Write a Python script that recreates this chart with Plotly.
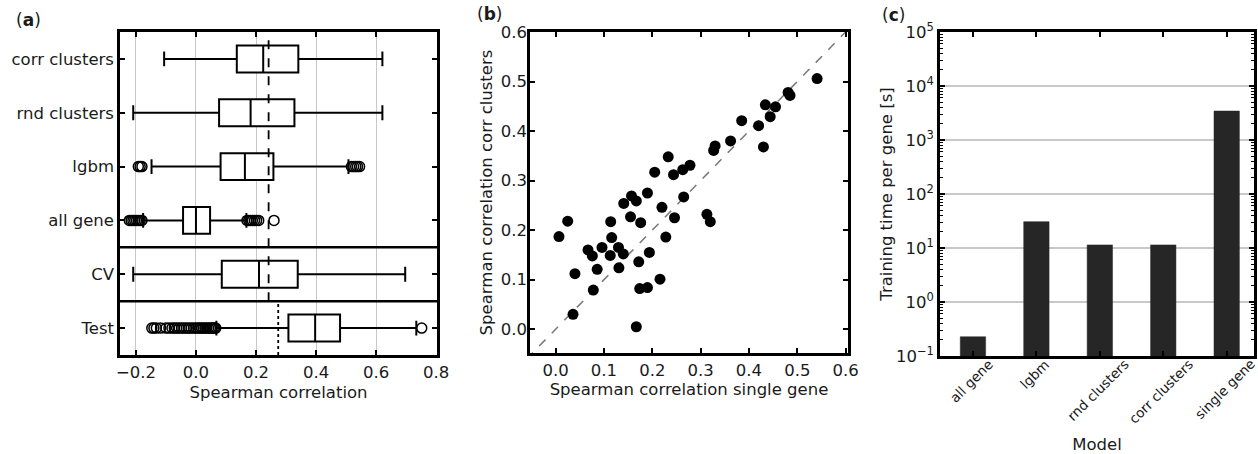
import plotly.graph_objects as go

W, H = 1258, 454

# ---------------- Panel (a) data: box statistics ----------------
box_categories = ["corr clusters", "rnd clusters", "lgbm", "all gene", "CV", "Test"]
box_lowerfence = [-0.106, -0.209, -0.148, -0.176, -0.209, 0.068]
box_q1 = [0.136, 0.077, 0.082, -0.043, 0.086, 0.308]
box_median = [0.224, 0.182, 0.163, 0.000, 0.210, 0.397]
box_q3 = [0.341, 0.328, 0.258, 0.047, 0.339, 0.480]
box_upperfence = [0.621, 0.621, 0.508, 0.168, 0.697, 0.734]

outliers_lgbm = [-0.192, -0.186, -0.180, 0.518, 0.525, 0.532, 0.538, 0.545]
outliers_allgene = [-0.222, -0.216, -0.210, -0.204, -0.198, -0.192, -0.186, -0.180,
                    0.170, 0.176, 0.182, 0.188, 0.195, 0.202, 0.209, 0.260]
outliers_test = [-0.147, -0.140, -0.132, -0.118, -0.100, -0.090, -0.080, -0.072,
                 -0.064, -0.056, -0.048, -0.040, -0.032, -0.024, -0.016, -0.008,
                 0.000, 0.006, 0.012, 0.018, 0.024, 0.030, 0.036, 0.042, 0.048,
                 0.053, 0.058, 0.062, 0.066, 0.752]

ref_line_cv = 0.242      # dashed reference line (model rows + CV)
ref_line_test = 0.274    # dotted reference line (Test row)

# ---------------- Panel (b) data: scatter ----------------
single_gene = [0.007, 0.025, 0.036, 0.040, 0.067, 0.076, 0.078, 0.086, 0.096, 0.113,
               0.114, 0.116, 0.130, 0.131, 0.140, 0.141, 0.155, 0.157, 0.167, 0.167,
               0.172, 0.176, 0.174, 0.190, 0.190, 0.194, 0.205, 0.216, 0.220, 0.228,
               0.233, 0.244, 0.246, 0.263, 0.265, 0.278, 0.313, 0.320, 0.327, 0.330,
               0.362, 0.385, 0.420, 0.430, 0.434, 0.444, 0.455, 0.481, 0.485, 0.541]
corr_clusters = [0.187, 0.218, 0.030, 0.112, 0.160, 0.148, 0.079, 0.121, 0.165, 0.149,
                 0.217, 0.185, 0.165, 0.124, 0.152, 0.254, 0.227, 0.269, 0.259, 0.005,
                 0.136, 0.215, 0.082, 0.084, 0.275, 0.155, 0.317, 0.101, 0.246, 0.186,
                 0.348, 0.312, 0.225, 0.322, 0.267, 0.331, 0.232, 0.217, 0.361, 0.370,
                 0.380, 0.421, 0.411, 0.368, 0.453, 0.429, 0.449, 0.478, 0.472, 0.506]
diag_range = [-0.06, 0.6]

# ---------------- Panel (c) data: training time ----------------
models = ["all gene", "lgbm", "rnd clusters", "corr clusters", "single gene"]
train_time = [0.227, 30.7, 11.4, 11.4, 3440]
log_tick_vals = [0.1, 1, 10, 100, 1000, 10000, 100000]
log_tick_text = ["10<sup>−1</sup>", "10<sup>0</sup>", "10<sup>1</sup>", "10<sup>2</sup>",
                 "10<sup>3</sup>", "10<sup>4</sup>", "10<sup>5</sup>"]

FONT = "DejaVu Sans"
TXT = "#1a1a1a"
FS = 16.5

fig = go.Figure()

# Panel (a) boxes
fig.add_trace(go.Box(
    y=box_categories, q1=box_q1, median=box_median, q3=box_q3,
    lowerfence=box_lowerfence, upperfence=box_upperfence,
    orientation="h", boxpoints=False, width=0.5, whiskerwidth=0.55,
    fillcolor="white", line=dict(color="black", width=2),
    xaxis="x", yaxis="y", showlegend=False, hoverinfo="skip"))

for cat, vals in [("lgbm", outliers_lgbm), ("all gene", outliers_allgene), ("Test", outliers_test)]:
    fig.add_trace(go.Scatter(
        x=vals, y=[cat] * len(vals), mode="markers",
        marker=dict(symbol="circle-open", size=10, color="black", line=dict(width=1.5)),
        xaxis="x", yaxis="y", showlegend=False, hoverinfo="skip"))

# Panel (b)
fig.add_trace(go.Scatter(
    x=diag_range, y=diag_range, mode="lines",
    line=dict(color="#777777", width=1.5, dash="dash"),
    xaxis="x2", yaxis="y2", showlegend=False, hoverinfo="skip"))
fig.add_trace(go.Scatter(
    x=single_gene, y=corr_clusters, mode="markers",
    marker=dict(size=11, color="black"),
    xaxis="x2", yaxis="y2", showlegend=False))

# Panel (c)
fig.add_trace(go.Bar(
    x=models, y=train_time, width=0.4,
    marker=dict(color="#262626", line=dict(color="#262626", width=0.5)),
    xaxis="x3", yaxis="y3", showlegend=False))


def ax(**kw):
    base = dict(showline=True, linewidth=2.5, linecolor="black", mirror="allticks",
                ticks="inside", ticklen=5, tickwidth=2, tickcolor="black",
                zeroline=False, automargin=False,
                tickfont=dict(family=FONT, size=FS, color=TXT),
                title_font=dict(family=FONT, size=FS, color=TXT))
    base.update(kw)
    return base


minor_vals = [m * 10 ** e for e in range(-1, 5) for m in range(2, 10)]

# rotated category labels of panel (c), centred under each tick like the reference
label_annotations = [
    dict(text=m, x=m, xref="x3", y=1 - 353 / H, yref="paper", textangle=-45,
         xanchor="center", yanchor="top", showarrow=False, xshift=-2,
         font=dict(family=FONT, size=13.5, color=TXT))
    for m in models
]

fig.update_layout(
    template="none",
    width=W, height=H, autosize=False,
    margin=dict(l=0, r=0, t=0, b=0),
    paper_bgcolor="white", plot_bgcolor="white",
    font=dict(family=FONT, color=TXT),
    showlegend=False,
    xaxis=ax(domain=[0.0954, 0.3474], range=[-0.253, 0.803], tick0=0, dtick=0.2,
             tickformat=".1f", showgrid=True, gridcolor="#c8c8c8", gridwidth=1,
             title=dict(text="Spearman correlation", standoff=6), anchor="y"),
    yaxis=ax(domain=[0.2181, 0.9295], type="category", categoryorder="array",
             categoryarray=box_categories, range=[5.5, -0.5], showgrid=False, anchor="x"),
    xaxis2=ax(domain=[0.4213, 0.6741], range=[-0.053, 0.605], tick0=0, dtick=0.1,
              tickformat=".1f", showgrid=False,
              title=dict(text="Spearman correlation single gene", standoff=4), anchor="y2"),
    yaxis2=ax(domain=[0.2225, 0.9295], range=[-0.048, 0.6], tick0=0, dtick=0.1,
              tickformat=".1f", showgrid=False, ticklabelstandoff=-3,
              title=dict(text="Spearman correlation corr clusters", standoff=4), anchor="x2"),
    xaxis3=ax(domain=[0.7472, 0.9968], type="category", range=[-0.52, 4.43],
              showgrid=False, showticklabels=False,
              title=dict(text="Model", standoff=84), anchor="y3"),
    yaxis3=ax(domain=[0.2159, 0.9295], type="log", range=[-1, 5],
              tickmode="array", tickvals=log_tick_vals, ticktext=log_tick_text,
              showgrid=True, gridcolor="#c8c8c8", gridwidth=1.5,
              minor=dict(tickmode="array", tickvals=minor_vals, ticks="inside",
                         ticklen=3, tickwidth=1, tickcolor="black", showgrid=False),
              title=dict(text="Training time per gene [s]", standoff=0), anchor="x3"),
    shapes=[
        dict(type="line", xref="x domain", yref="y domain", x0=0, x1=1, y0=1/3, y1=1/3,
             line=dict(color="black", width=2.5)),
        dict(type="line", xref="x domain", yref="y domain", x0=0, x1=1, y0=1/6, y1=1/6,
             line=dict(color="black", width=2.5)),
        dict(type="line", xref="x", yref="y domain", x0=ref_line_cv, x1=ref_line_cv,
             y0=1/6, y1=1, line=dict(color="black", width=1.8, dash="dash")),
        dict(type="line", xref="x", yref="y domain", x0=ref_line_test, x1=ref_line_test,
             y0=0, y1=1/6, line=dict(color="black", width=1.8, dash="dot")),
    ],
    annotations=[
        dict(text="(<b>a</b>)", x=14 / W, y=1 - 20 / H, xref="paper", yref="paper",
             xanchor="left", yanchor="middle", showarrow=False,
             font=dict(family=FONT, size=17, color=TXT)),
        dict(text="(<b>b</b>)", x=475 / W, y=1 - 14 / H, xref="paper", yref="paper",
             xanchor="left", yanchor="middle", showarrow=False,
             font=dict(family=FONT, size=17, color=TXT)),
        dict(text="(<b>c</b>)", x=880 / W, y=1 - 15 / H, xref="paper", yref="paper",
             xanchor="left", yanchor="middle", showarrow=False,
             font=dict(family=FONT, size=17, color=TXT)),
    ] + label_annotations,
)

fig.write_html("out.html", config={"displayModeBar": False},
               post_script="document.body.style.margin='0';")
